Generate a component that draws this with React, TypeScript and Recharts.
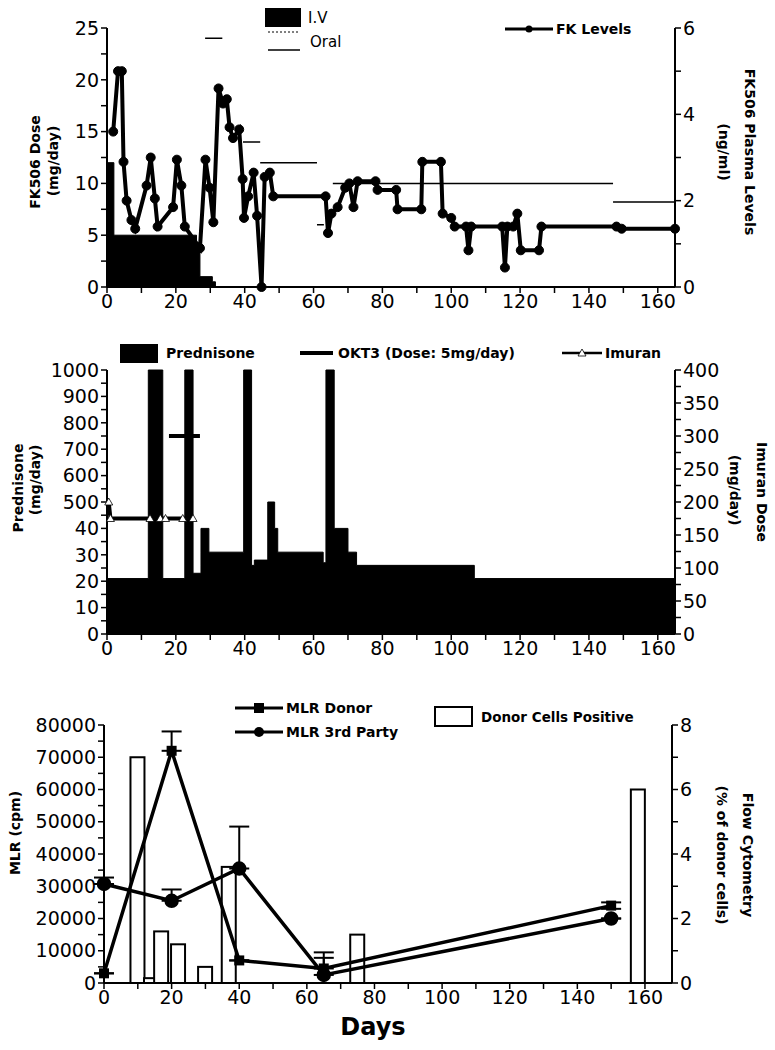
import React from 'react';
import { ComposedChart, Area, Line, Bar, XAxis, YAxis, ErrorBar } from 'recharts';

const FONT = '"DejaVu Sans", sans-serif';

// ---------- Panel 1: FK506 ----------
const ivDays = [0, 2, 26, 27, 30.6, 31.5, 165];
const ivDose = [12, 5, 4, 1, 0.5, 0, 0];

const oralStart = [28.5, 39.5, 44.5, 61, 65.6, 147];
const oralEnd = [33.5, 44.5, 61, 63, 147, 165];
const oralDose = [24, 14, 12, 6, 10, 8.2];

const fkDays = [1.8, 3.2, 4.3, 4.8, 5.7, 7.1, 8.2, 11.5, 12.7, 13.9, 14.7, 19.2, 20.3, 21.6, 22.6, 27, 28.6, 29.8, 30.9, 32.4, 33.7, 34.8, 35.6, 36.6, 38.4, 39.4, 39.8, 41, 42.6, 43.6, 44.9, 45.8, 47.3, 48.3, 63.5, 64.2, 65.2, 67, 69.2, 70.4, 71.6, 72.8, 78, 78.6, 84, 84.4, 91.3, 91.6, 97, 97.5, 100, 101, 104.3, 105, 105.8, 114.8, 115.6, 116.3, 118, 119.2, 120.2, 125.5, 126.2, 148, 149.5, 165];
const fkLevel = [3.6, 5.0, 5.0, 2.9, 2.0, 1.55, 1.35, 2.35, 3.0, 2.05, 1.4, 1.85, 2.95, 2.35, 1.4, 0.9, 2.95, 2.3, 1.5, 4.6, 4.25, 4.35, 3.7, 3.45, 3.65, 2.5, 1.6, 2.1, 2.65, 1.65, 0, 2.55, 2.65, 2.1, 2.1, 1.25, 1.7, 1.85, 2.3, 2.4, 1.85, 2.45, 2.45, 2.25, 2.25, 1.8, 1.8, 2.9, 2.9, 1.7, 1.6, 1.4, 1.4, 0.85, 1.4, 1.4, 0.45, 1.4, 1.4, 1.7, 0.85, 0.85, 1.4, 1.4, 1.35, 1.35];

const dayTicks = [0, 10, 20, 30, 40, 50, 60, 70, 80, 90, 100, 110, 120, 130, 140, 150, 160];
const doseTicks = [0, 2.5, 5, 7.5, 10, 12.5, 15, 17.5, 20, 22.5, 25];
const levelTicks = [0, 1, 2, 3, 4, 5, 6];

// ---------- Panel 2: Prednisone / OKT3 / Imuran ----------
const predDays = [0, 12, 16.2, 22.6, 25, 27.3, 29.6, 39.7, 42, 42.8, 46.7, 48.7, 49.6, 62.8, 63.6, 66, 70, 72.5, 106.7, 165];
const predDose = [21, 1000, 21, 1000, 23, 40, 31, 1000, 26, 28, 500, 40, 31, 27, 1000, 40, 31, 26, 21, 21];
const predTickLabels = ['0', '10', '20', '30', '40', '500', '600', '700', '800', '900', '1000'];

const okt3Days = [18, 27];
const okt3Mark = [750, 750];

const imuranDays = [0.5, 1, 12.5, 15.5, 17, 22, 25];
const imuranDose = [200, 175, 175, 175, 175, 175, 175];
const imuranTicks = [0, 25, 50, 75, 100, 125, 150, 175, 200, 225, 250, 275, 300, 325, 350, 375, 400];

// ---------- Panel 3: MLR / Flow cytometry ----------
const mlrDays = [0, 20, 40, 65, 150];
const donorMLR = [3000, 72000, 7000, 4500, 24000];
const donorErrUp = [0, 6000, 0, 5000, 1000];
const donorErrDown = [0, 0, 0, 0, 1000];
const thirdMLR = [30700, 25500, 35500, 2500, 20000];
const thirdErrUp = [2000, 3500, 13000, 5300, 0];

const flowDays = [10, 14, 17, 22, 30, 37, 75, 158];
const flowPct = [7, 0.15, 1.6, 1.2, 0.5, 3.6, 1.5, 6];
const mlrTicks = [0, 5000, 10000, 15000, 20000, 25000, 30000, 35000, 40000, 45000, 50000, 55000, 60000, 65000, 70000, 75000, 80000];
const flowTicks = [0, 1, 2, 3, 4, 5, 6, 7, 8];

// prednisone broken scale -> index position 0..10
const pIdx = (v: number) => {
  if (v <= 40) return v / 10;
  if (v < 500) return 4 + (v - 40) / 460;
  return 5 + (v - 500) / 100;
};

const ivData = ivDays.map((d, i) => ({ day: d, iv: ivDose[i] }));
const oralData: { day: number; oral: number | null }[] = [];
oralStart.forEach((s, i) => {
  oralData.push({ day: s, oral: oralDose[i] });
  oralData.push({ day: oralEnd[i], oral: oralDose[i] });
  oralData.push({ day: oralEnd[i], oral: null });
});
const fkData = fkDays.map((d, i) => ({ day: d, level: fkLevel[i] }));

const predData = predDays.map((d, i) => ({ day: d, pred: pIdx(predDose[i]) }));
const okt3Data = okt3Days.map((d, i) => ({ day: d, okt3: pIdx(okt3Mark[i]) }));
const imuranData = imuranDays.map((d, i) => ({ day: d, imuran: imuranDose[i] }));

const donorData = mlrDays.map((d, i) => ({ day: d, donor: donorMLR[i], err: [donorErrDown[i], donorErrUp[i]] }));
const thirdData = mlrDays.map((d, i) => ({ day: d, third: thirdMLR[i], err: [0, thirdErrUp[i]] }));
const flowData = flowDays.map((d, i) => ({ day: d, flow: flowPct[i] }));

const tickStyle = { fontSize: 19, fill: '#000', fontFamily: FONT };
const axisLine = { stroke: '#000', strokeWidth: 2 };
const tickLine = { stroke: '#000', strokeWidth: 1.5 };

const dayFmt = (v: number) => (v % 20 === 0 ? String(v) : '');

const TriDot = (props: any) => {
  const { cx, cy, index } = props;
  if (cx == null || cy == null) return <g key={`t${index}`} />;
  return (
    <polygon
      key={`t${index}`}
      points={`${cx},${cy - 4} ${cx - 4},${cy + 3} ${cx + 4},${cy + 3}`}
      fill="#fff"
      stroke="#000"
      strokeWidth={0.8}
    />
  );
};

const SquareDot = (props: any) => {
  const { cx, cy, index } = props;
  if (cx == null || cy == null) return <g key={`s${index}`} />;
  return <rect key={`s${index}`} x={cx - 5} y={cy - 5} width={10} height={10} fill="#000" />;
};

const OpenBar = (props: any) => {
  const { x, y, width, height } = props;
  if (x == null || y == null) return <g />;
  const cx = x + width / 2;
  return <rect x={cx - 7} y={y} width={14} height={Math.max(height, 0)} fill="#fff" stroke="#000" strokeWidth={2} />;
};

const rotText = (x: number, y: number, deg: number, txt: string, size = 14, bold = true) => (
  <text
    x={0}
    y={0}
    transform={`translate(${x},${y}) rotate(${deg})`}
    textAnchor="middle"
    dominantBaseline="central"
    fontSize={size}
    fontWeight={bold ? 'bold' : 'normal'}
    fontFamily={FONT}
    fill="#000"
  >
    {txt}
  </text>
);

export default function App() {
  return (
    <div style={{ position: 'absolute', left: 0, top: 0, width: 775, height: 1050, background: '#fff' }}>
      {/* Panel 1 */}
      <div style={{ position: 'absolute', left: 0, top: 0 }}>
        <ComposedChart width={775} height={320} data={ivData} margin={{ top: 28, right: 55, bottom: 3, left: 52 }}>
          <XAxis
            dataKey="day"
            type="number"
            domain={[0, 165]}
            ticks={dayTicks}
            interval={0}
            tickFormatter={dayFmt}
            tick={tickStyle}
            axisLine={axisLine}
            tickLine={tickLine}
            tickSize={6}
            height={30}
          />
          <YAxis
            yAxisId="left"
            domain={[0, 25]}
            ticks={doseTicks}
            interval={0}
            tickFormatter={(v: number) => (v % 5 === 0 ? String(v) : '')}
            tick={tickStyle}
            axisLine={axisLine}
            tickLine={tickLine}
            tickSize={6}
            width={55}
          />
          <YAxis
            yAxisId="right"
            orientation="right"
            domain={[0, 6]}
            ticks={levelTicks}
            interval={0}
            tickFormatter={(v: number) => (v % 2 === 0 ? String(v) : '')}
            tick={tickStyle}
            axisLine={axisLine}
            tickLine={tickLine}
            tickSize={6}
            width={45}
          />
          <Area yAxisId="left" type="stepAfter" dataKey="iv" fill="#000" fillOpacity={1} stroke="#000" strokeWidth={1} isAnimationActive={false} />
          <Line yAxisId="left" data={oralData} type="linear" dataKey="oral" stroke="#000" strokeWidth={1.5} dot={false} connectNulls={false} isAnimationActive={false} />
          <Line yAxisId="right" data={fkData} type="linear" dataKey="level" stroke="#000" strokeWidth={4} dot={{ r: 4.5, fill: '#000', stroke: '#000', strokeWidth: 1 }} isAnimationActive={false} />
        </ComposedChart>
      </div>

      {/* Panel 2 */}
      <div style={{ position: 'absolute', left: 0, top: 330 }}>
        <ComposedChart width={775} height={335} data={predData} margin={{ top: 40, right: 55, bottom: 1, left: 52 }}>
          <XAxis
            dataKey="day"
            type="number"
            domain={[0, 165]}
            ticks={dayTicks}
            interval={0}
            tickFormatter={dayFmt}
            tick={tickStyle}
            axisLine={axisLine}
            tickLine={tickLine}
            tickSize={6}
            height={30}
          />
          <YAxis
            yAxisId="left"
            domain={[0, 10]}
            ticks={[0, 0.5, 1, 1.5, 2, 2.5, 3, 3.5, 4, 4.5, 5, 5.5, 6, 6.5, 7, 7.5, 8, 8.5, 9, 9.5, 10]}
            interval={0}
            tickFormatter={(v: number) => (Number.isInteger(v) ? predTickLabels[v] : '')}
            tick={tickStyle}
            axisLine={axisLine}
            tickLine={tickLine}
            tickSize={6}
            width={55}
          />
          <YAxis
            yAxisId="right"
            orientation="right"
            domain={[0, 400]}
            ticks={imuranTicks}
            interval={0}
            tickFormatter={(v: number) => (v % 50 === 0 ? String(v) : '')}
            tick={tickStyle}
            axisLine={axisLine}
            tickLine={tickLine}
            tickSize={6}
            width={45}
          />
          <Area yAxisId="left" type="stepAfter" dataKey="pred" fill="#000" fillOpacity={1} stroke="#000" strokeWidth={1} isAnimationActive={false} />
          <Line yAxisId="left" data={okt3Data} type="linear" dataKey="okt3" stroke="#000" strokeWidth={4} dot={false} isAnimationActive={false} />
          <Line yAxisId="right" data={imuranData} type="linear" dataKey="imuran" stroke="#000" strokeWidth={4} dot={TriDot} isAnimationActive={false} />
        </ComposedChart>
      </div>

      {/* Panel 3 */}
      <div style={{ position: 'absolute', left: 0, top: 680 }}>
        <ComposedChart width={775} height={340} data={flowData} margin={{ top: 45, right: 58, bottom: 7, left: 49 }}>
          <XAxis
            dataKey="day"
            type="number"
            domain={[0, 168]}
            ticks={dayTicks}
            interval={0}
            tickFormatter={dayFmt}
            tick={tickStyle}
            axisLine={axisLine}
            tickLine={tickLine}
            tickSize={6}
            height={30}
          />
          <YAxis
            yAxisId="left"
            domain={[0, 80000]}
            ticks={mlrTicks}
            interval={0}
            tickFormatter={(v: number) => (v % 10000 === 0 ? String(v) : '')}
            tick={tickStyle}
            axisLine={axisLine}
            tickLine={tickLine}
            tickSize={6}
            width={55}
          />
          <YAxis
            yAxisId="right"
            orientation="right"
            domain={[0, 8]}
            ticks={flowTicks}
            interval={0}
            tickFormatter={(v: number) => (v % 2 === 0 ? String(v) : '')}
            tick={tickStyle}
            axisLine={axisLine}
            tickLine={tickLine}
            tickSize={6}
            width={45}
          />
          <Bar yAxisId="right" dataKey="flow" barSize={14} fill="#fff" stroke="#000" strokeWidth={2} shape={OpenBar} isAnimationActive={false} />
          <Line yAxisId="left" data={donorData} type="linear" dataKey="donor" stroke="#000" strokeWidth={3.5} dot={SquareDot} isAnimationActive={false}>
            <ErrorBar dataKey="err" width={10} stroke="#000" strokeWidth={2} direction="y" />
          </Line>
          <Line yAxisId="left" data={thirdData} type="linear" dataKey="third" stroke="#000" strokeWidth={3.5} dot={{ r: 5.5, fill: '#000', stroke: '#000' }} isAnimationActive={false}>
            <ErrorBar dataKey="err" width={10} stroke="#000" strokeWidth={2} direction="y" />
          </Line>
        </ComposedChart>
      </div>

      {/* Overlay texts and legends */}
      <svg width={775} height={1050} style={{ position: 'absolute', left: 0, top: 0, pointerEvents: 'none' }}>
        {/* Panel 1 legend */}
        <rect x={265} y={8} width={36} height={19} fill="#000" />
        <text x={308} y={23} fontSize={15} fontFamily={FONT} fill="#000">I.V</text>
        <line x1={268} x2={300} y1={32} y2={32} stroke="#000" strokeWidth={1} strokeDasharray="2 2" />
        <line x1={268} x2={300} y1={50} y2={50} stroke="#000" strokeWidth={1.5} />
        <text x={310} y={47} fontSize={15} fontFamily={FONT} fill="#000">Oral</text>
        <line x1={505} x2={553} y1={29} y2={29} stroke="#000" strokeWidth={3} />
        <circle cx={529} cy={29} r={3.5} fill="#000" />
        <text x={556} y={34} fontSize={14} fontWeight="bold" fontFamily={FONT} fill="#000">FK Levels</text>
        {rotText(35, 162, -90, 'FK506 Dose')}
        {rotText(53, 161, -90, '(mg/day)')}
        {rotText(750, 152, 90, 'FK506 Plasma Levels')}
        {rotText(724, 152, 90, '(ng/ml)')}

        {/* Panel 2 legend */}
        <rect x={120} y={344} width={38} height={19} fill="#000" />
        <text x={166} y={358} fontSize={14} fontWeight="bold" fontFamily={FONT} fill="#000">Prednisone</text>
        <line x1={300} x2={333} y1={353} y2={353} stroke="#000" strokeWidth={4} />
        <text x={338} y={358} fontSize={14} fontWeight="bold" fontFamily={FONT} fill="#000">OKT3 (Dose: 5mg/day)</text>
        <line x1={562} x2={602} y1={353} y2={353} stroke="#000" strokeWidth={2.5} />
        <polygon points="582,349 578,356 586,356" fill="#fff" stroke="#000" strokeWidth={0.8} />
        <text x={605} y={358} fontSize={14} fontWeight="bold" fontFamily={FONT} fill="#000">Imuran</text>
        {rotText(18, 488, -90, 'Prednisone')}
        {rotText(35, 480, -90, '(mg/day)')}
        {rotText(762, 492, 90, 'Imuran Dose')}
        {rotText(735, 490, 90, '(mg/day)')}

        {/* Panel 3 legend */}
        <line x1={235} x2={283} y1={708} y2={708} stroke="#000" strokeWidth={3} />
        <rect x={254} y={703} width={10} height={10} fill="#000" />
        <text x={286} y={713} fontSize={14} fontWeight="bold" fontFamily={FONT} fill="#000">MLR Donor</text>
        <line x1={235} x2={283} y1={732} y2={732} stroke="#000" strokeWidth={3} />
        <circle cx={259} cy={732} r={5} fill="#000" />
        <text x={286} y={737} fontSize={14} fontWeight="bold" fontFamily={FONT} fill="#000">MLR 3rd Party</text>
        <rect x={435} y={707} width={37} height={19} fill="#fff" stroke="#000" strokeWidth={2} />
        <text x={481} y={722} fontSize={13.5} fontWeight="bold" fontFamily={FONT} fill="#000">Donor Cells Positive</text>
        {rotText(15, 833, -90, 'MLR (cpm)')}
        {rotText(748, 855, 90, 'Flow Cytometry')}
        {rotText(722, 855, 90, '(% of donor cells)')}
        <text x={373} y={1035} textAnchor="middle" fontSize={24} fontWeight="bold" fontFamily={FONT} fill="#000">Days</text>
      </svg>
    </div>
  );
}
